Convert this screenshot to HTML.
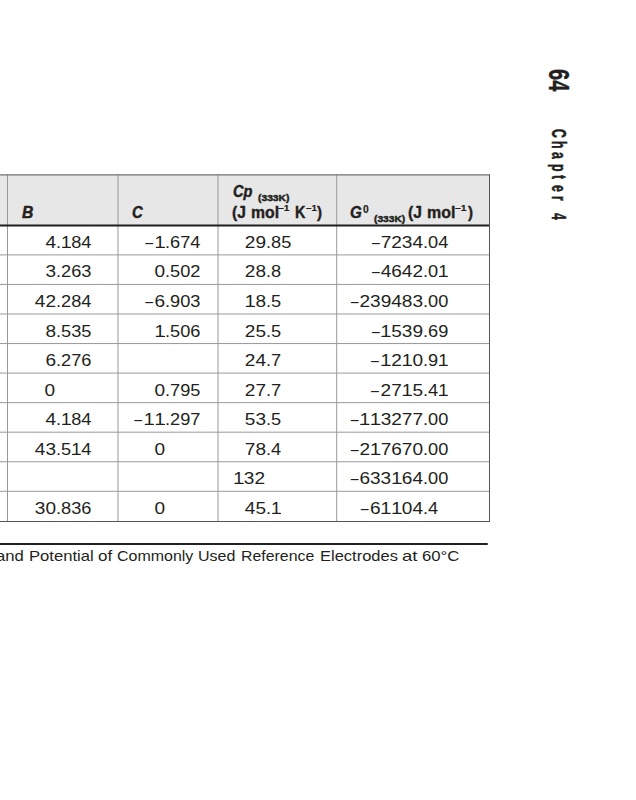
<!DOCTYPE html>
<html><head><meta charset="utf-8">
<style>
html,body{margin:0;padding:0;background:#fff;}
body{width:636px;height:800px;position:relative;overflow:hidden;font-family:"Liberation Sans",sans-serif;color:#231f20;}
.t{position:absolute;white-space:nowrap;font-family:"Liberation Sans",sans-serif;color:#231f20;}
.num{font-size:17px;line-height:20px;}
.ip{display:inline-block;width:100px;text-align:right;transform:scaleX(1.12);transform-origin:100% 0;}
.fp{display:inline-block;width:100px;text-align:left;transform:scaleX(1.07);transform-origin:0 0;}
.hg{position:absolute;top:0;font-size:0;line-height:0;white-space:nowrap;}
.hp{display:inline-block;position:relative;vertical-align:top;transform-origin:0 0;color:#231f20;}
.sp{font-size:0;}
.cw{display:inline-block;transform-origin:0 0;}
.o{position:relative;}
.o::after{content:"";position:absolute;left:1px;width:8px;bottom:4px;height:1.2px;background:#231f20;}
.d{display:inline-block;transform:scaleX(0.74);transform-origin:100% 50%;margin-right:1.2px;}
.side{position:absolute;font-weight:bold;transform-origin:0 0;transform:rotate(90deg);white-space:nowrap;line-height:1;width:300px;height:30px;}
.side span{display:inline-block;vertical-align:top;transform:scaleX(0.6);transform-origin:0 0;}
.side span.sp{font-size:0;}
</style></head><body>
<svg style="position:absolute;left:0;top:0" width="636" height="800" viewBox="0 0 636 800"><rect x="0" y="175" width="489" height="50" fill="#e7e7e7"/><line x1="7.5" y1="174.5" x2="7.5" y2="521" stroke="#999" stroke-width="1"/><line x1="118.0" y1="174.5" x2="118.0" y2="521" stroke="#999" stroke-width="1"/><line x1="218.0" y1="174.5" x2="218.0" y2="521" stroke="#999" stroke-width="1"/><line x1="336.7" y1="174.5" x2="336.7" y2="521" stroke="#999" stroke-width="1"/><line x1="0" y1="254.90" x2="489" y2="254.90" stroke="#999" stroke-width="1"/><line x1="0" y1="284.45" x2="489" y2="284.45" stroke="#999" stroke-width="1"/><line x1="0" y1="314.00" x2="489" y2="314.00" stroke="#999" stroke-width="1"/><line x1="0" y1="343.55" x2="489" y2="343.55" stroke="#999" stroke-width="1"/><line x1="0" y1="373.10" x2="489" y2="373.10" stroke="#999" stroke-width="1"/><line x1="0" y1="402.65" x2="489" y2="402.65" stroke="#999" stroke-width="1"/><line x1="0" y1="432.20" x2="489" y2="432.20" stroke="#999" stroke-width="1"/><line x1="0" y1="461.75" x2="489" y2="461.75" stroke="#999" stroke-width="1"/><line x1="0" y1="491.30" x2="489" y2="491.30" stroke="#999" stroke-width="1"/><line x1="0" y1="174.9" x2="490" y2="174.9" stroke="#707070" stroke-width="1.2"/><line x1="0" y1="225.6" x2="490" y2="225.6" stroke="#1f1f1f" stroke-width="2"/><line x1="0" y1="521.5" x2="490" y2="521.5" stroke="#555" stroke-width="1"/><line x1="489.5" y1="174.5" x2="489.5" y2="522" stroke="#555" stroke-width="1"/><line x1="0" y1="544" x2="487.8" y2="544" stroke="#222" stroke-width="2"/></svg>
<div class="hg" style="left:22.20px"><span class="hp" style="width:40.00px;top:205.00px;font-weight:bold;font-style:italic;font-size:16px;line-height:16px;-webkit-text-stroke:0.45px #231f20;transform:scaleX(0.982)">B</span></div>
<div class="hg" style="left:131.70px"><span class="hp" style="width:40.00px;top:205.00px;font-weight:bold;font-style:italic;font-size:16px;line-height:16px;-webkit-text-stroke:0.45px #231f20;transform:scaleX(0.925)">C</span></div>
<div class="hg" style="left:232.70px"><span class="hp" style="width:25.40px;top:184.30px;font-weight:bold;font-style:italic;font-size:16px;line-height:16px;-webkit-text-stroke:0.45px #231f20;transform:scaleX(0.910)">Cp</span> <span class="hp" style="width:0;margin-right:-25.98px;top:194.40px;font-weight:bold;font-size:9px;line-height:9px;-webkit-text-stroke:0.45px #231f20;transform:scaleX(1.141)">(333K)</span> <span class="hp" style="width:18.69px;top:205.00px;font-weight:bold;font-size:16px;line-height:16px;-webkit-text-stroke:0.4px #231f20;transform:scaleX(0.975)">(J</span> <span class="hp" style="width:26.99px;top:204.90px;font-weight:bold;font-size:16px;line-height:16px;-webkit-text-stroke:0.4px #231f20;transform:scaleX(0.985)">mol</span><span class="hp" style="width:17.00px;top:203.10px;font-weight:bold;font-size:9.5px;line-height:10px;-webkit-text-stroke:0.2px #231f20;transform:scaleX(1.091)">–1</span> <span class="hp" style="width:11.60px;top:204.90px;font-weight:bold;font-size:16px;line-height:16px;-webkit-text-stroke:0.4px #231f20;transform:scaleX(0.900)">K</span><span class="hp" style="width:10.60px;top:203.40px;font-weight:bold;font-size:9.5px;line-height:10px;-webkit-text-stroke:0.2px #231f20;transform:scaleX(1.027)">–1</span><span class="hp" style="width:40.00px;top:205.20px;font-weight:bold;font-size:16px;line-height:16px;-webkit-text-stroke:0.4px #231f20;transform:scaleX(0.940)">)</span></div>
<div class="hg" style="left:350.25px"><span class="hp" style="width:12.75px;top:204.90px;font-weight:bold;font-style:italic;font-size:16px;line-height:16px;-webkit-text-stroke:0.45px #231f20;transform:scaleX(0.945)">G</span><span class="hp" style="width:11.10px;top:203.70px;font-weight:bold;font-size:11px;line-height:11px;-webkit-text-stroke:0.2px #231f20;transform:scaleX(0.933)">0</span> <span class="hp" style="width:33.92px;top:215.30px;font-weight:bold;font-size:9px;line-height:9px;-webkit-text-stroke:0.45px #231f20;transform:scaleX(1.137)">(333K)</span> <span class="hp" style="width:18.88px;top:205.00px;font-weight:bold;font-size:16px;line-height:16px;-webkit-text-stroke:0.4px #231f20;transform:scaleX(0.975)">(J</span> <span class="hp" style="width:28.50px;top:204.90px;font-weight:bold;font-size:16px;line-height:16px;-webkit-text-stroke:0.4px #231f20;transform:scaleX(0.996)">mol</span><span class="hp" style="width:13.00px;top:202.80px;font-weight:bold;font-size:9.5px;line-height:10px;-webkit-text-stroke:0.2px #231f20;transform:scaleX(1.082)">–1</span><span class="hp" style="width:40.00px;top:205.20px;font-weight:bold;font-size:16px;line-height:16px;-webkit-text-stroke:0.4px #231f20;transform:scaleX(0.940)">)</span></div>
<div class="t num" style="top:233.0px;left:-44.0px"><span class="ip">4</span><span class="fp">.<span class="o">1</span>84</span></div>
<div class="t num" style="top:233.0px;left:65.0px"><span class="ip"><span class="d">–</span><span class="o">1</span></span><span class="fp">.674</span></div>
<div class="t num" style="top:233.0px;left:166.0px"><span class="ip">29</span><span class="fp">.85</span></div>
<div class="t num" style="top:233.0px;left:323.0px"><span class="ip"><span class="d">–</span>7234</span><span class="fp">.04</span></div>
<div class="t num" style="top:262.0px;left:-44.0px"><span class="ip">3</span><span class="fp">.263</span></div>
<div class="t num" style="top:262.0px;left:65.0px"><span class="ip">0</span><span class="fp">.502</span></div>
<div class="t num" style="top:262.0px;left:166.0px"><span class="ip">28</span><span class="fp">.8</span></div>
<div class="t num" style="top:262.0px;left:323.0px"><span class="ip"><span class="d">–</span>4642</span><span class="fp">.0<span class="o">1</span></span></div>
<div class="t num" style="top:292.0px;left:-44.0px"><span class="ip">42</span><span class="fp">.284</span></div>
<div class="t num" style="top:292.0px;left:65.0px"><span class="ip"><span class="d">–</span>6</span><span class="fp">.903</span></div>
<div class="t num" style="top:292.0px;left:166.0px"><span class="ip"><span class="o">1</span>8</span><span class="fp">.5</span></div>
<div class="t num" style="top:292.0px;left:323.0px"><span class="ip"><span class="d">–</span>239483</span><span class="fp">.00</span></div>
<div class="t num" style="top:322.0px;left:-44.0px"><span class="ip">8</span><span class="fp">.535</span></div>
<div class="t num" style="top:322.0px;left:65.0px"><span class="ip"><span class="o">1</span></span><span class="fp">.506</span></div>
<div class="t num" style="top:322.0px;left:166.0px"><span class="ip">25</span><span class="fp">.5</span></div>
<div class="t num" style="top:322.0px;left:323.0px"><span class="ip"><span class="d">–</span><span class="o">1</span>539</span><span class="fp">.69</span></div>
<div class="t num" style="top:351.0px;left:-44.0px"><span class="ip">6</span><span class="fp">.276</span></div>
<div class="t num" style="top:351.0px;left:166.0px"><span class="ip">24</span><span class="fp">.7</span></div>
<div class="t num" style="top:351.0px;left:323.0px"><span class="ip"><span class="d">–</span><span class="o">1</span>2<span class="o">1</span>0</span><span class="fp">.9<span class="o">1</span></span></div>
<div class="t num" style="top:381.0px;left:-44.8px"><span class="ip">0</span></div>
<div class="t num" style="top:381.0px;left:65.0px"><span class="ip">0</span><span class="fp">.795</span></div>
<div class="t num" style="top:381.0px;left:166.0px"><span class="ip">27</span><span class="fp">.7</span></div>
<div class="t num" style="top:381.0px;left:323.0px"><span class="ip"><span class="d">–</span>27<span class="o">1</span>5</span><span class="fp">.4<span class="o">1</span></span></div>
<div class="t num" style="top:410.0px;left:-44.0px"><span class="ip">4</span><span class="fp">.<span class="o">1</span>84</span></div>
<div class="t num" style="top:410.0px;left:65.0px"><span class="ip"><span class="d">–</span><span class="o">1</span><span class="o">1</span></span><span class="fp">.297</span></div>
<div class="t num" style="top:410.0px;left:166.0px"><span class="ip">53</span><span class="fp">.5</span></div>
<div class="t num" style="top:410.0px;left:323.0px"><span class="ip"><span class="d">–</span><span class="o">1</span><span class="o">1</span>3277</span><span class="fp">.00</span></div>
<div class="t num" style="top:440.0px;left:-44.0px"><span class="ip">43</span><span class="fp">.5<span class="o">1</span>4</span></div>
<div class="t num" style="top:440.0px;left:65.0px"><span class="ip">0</span></div>
<div class="t num" style="top:440.0px;left:166.0px"><span class="ip">78</span><span class="fp">.4</span></div>
<div class="t num" style="top:440.0px;left:323.0px"><span class="ip"><span class="d">–</span>2<span class="o">1</span>7670</span><span class="fp">.00</span></div>
<div class="t num" style="top:469.0px;left:165.4px"><span class="ip"><span class="o">1</span>32</span></div>
<div class="t num" style="top:469.0px;left:323.0px"><span class="ip"><span class="d">–</span>633<span class="o">1</span>64</span><span class="fp">.00</span></div>
<div class="t num" style="top:499.0px;left:-44.0px"><span class="ip">30</span><span class="fp">.836</span></div>
<div class="t num" style="top:499.0px;left:65.0px"><span class="ip">0</span></div>
<div class="t num" style="top:499.0px;left:166.0px"><span class="ip">45</span><span class="fp">.<span class="o">1</span></span></div>
<div class="t num" style="top:499.0px;left:323.0px"><span class="ip"><span class="d">–</span>6<span class="o">1</span><span class="o">1</span>04</span><span class="fp">.4</span></div>
<div class="t" style="left:-3.66px;top:548.4px;font-size:15px;line-height:16px;"><span class="cw" style="width:32.45px;transform:scaleX(1.111)">and</span><span class="sp"> </span><span class="cw" style="width:68.98px;transform:scaleX(1.109)">Potential</span><span class="sp"> </span><span class="cw" style="width:19.07px;transform:scaleX(1.133)">of</span><span class="sp"> </span><span class="cw" style="width:81.60px;transform:scaleX(1.065)">Commonly</span><span class="sp"> </span><span class="cw" style="width:42.51px;transform:scaleX(1.070)">Used</span><span class="sp"> </span><span class="cw" style="width:79.06px;transform:scaleX(1.059)">Reference</span><span class="sp"> </span><span class="cw" style="width:82.06px;transform:scaleX(1.099)">Electrodes</span><span class="sp"> </span><span class="cw" style="width:19.62px;transform:scaleX(1.236)">at</span><span class="sp"> </span><span class="cw" style="width:60.00px;transform:scaleX(1.116)">60°C</span></div>
<div class="side" style="left:574px;top:0;font-size:30px;-webkit-text-stroke:0.4px #231f20;"><span style="margin-left:68.5px;transform:scaleX(0.67)">64</span></div>
<div class="side" style="left:569px;top:0;font-size:20.5px;-webkit-text-stroke:0.5px #231f20;padding-left:129.25px"><span style="width:11.750px">C</span><span style="width:11.250px">h</span><span style="width:11.750px">a</span><span style="width:11.000px">p</span><span style="width:10.200px">t</span><span style="width:10.600px">e</span><span style="width:11.304px">r</span> <span style="width:12.000px">4</span></div>
</body></html>
